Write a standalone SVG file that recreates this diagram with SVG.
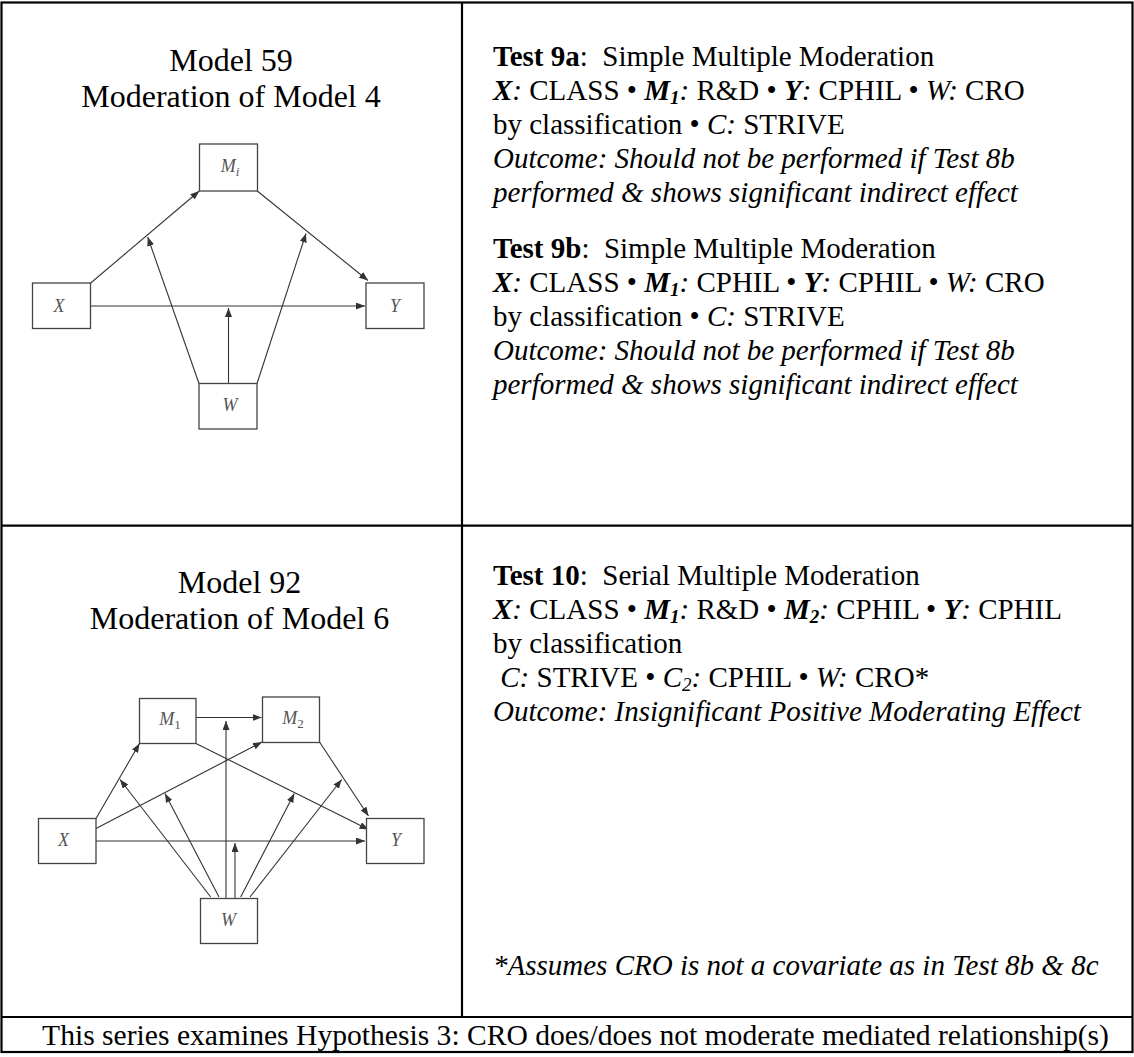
<svg xmlns="http://www.w3.org/2000/svg" width="1134" height="1057" viewBox="0 0 1134 1057">
  <style>
    .grid { stroke: #000; stroke-width: 2.2; fill: none; }
    .title { font-family: "Liberation Serif", "Times New Roman", serif; font-size: 32px; fill: #000; text-anchor: middle; }
    .body text, text.body { font-family: "Liberation Serif", "Times New Roman", serif; font-size: 29px; fill: #000; white-space: pre; }
    .box { fill: #fff; stroke: #444; stroke-width: 1.3; }
    .lbl { font-family: "Liberation Serif", "Times New Roman", serif; font-style: italic; font-size: 18px; fill: #555; text-anchor: middle; }
    .edge { stroke: #333; stroke-width: 1.1; fill: none; marker-end: url(#arr); }
    .b { font-weight: bold; }
    .i { font-style: italic; }
  </style>
  <defs>
    <marker id="arr" markerUnits="userSpaceOnUse" markerWidth="9" markerHeight="7" refX="9" refY="3.5" orient="auto">
      <path d="M0,0 L9,3.5 L0,7 z" fill="#333"/>
    </marker>
  </defs>

  <rect width="1134" height="1057" fill="#fff"/>

  <!-- table rules -->
  <g id="table">
    <rect class="grid" x="1.5" y="2.5" width="1131" height="1049.5"/>
    <line class="grid" x1="462" y1="2.5" x2="462" y2="1017"/>
    <line class="grid" x1="1.5" y1="525.7" x2="1132.5" y2="525.7"/>
    <line class="grid" x1="1.5" y1="1017" x2="1132.5" y2="1017"/>
  </g>

  <!-- left column headings -->
  <g id="heading-59">
    <text class="title" x="231" y="70.7">Model 59</text>
    <text class="title" x="231" y="106.7">Moderation of Model 4</text>
  </g>
  <g id="heading-92">
    <text class="title" x="239.5" y="592.5">Model 92</text>
    <text class="title" x="239.5" y="629">Moderation of Model 6</text>
  </g>

  <!-- Model 59 connectors -->
  <g id="edges-59">
    <path class="edge" d="M90.7,283 L199.3,191"/>
    <path class="edge" d="M257.3,191 L368,280.5"/>
    <path class="edge" d="M90.7,306 L365,306"/>
    <path class="edge" d="M199,383.5 L147.7,237"/>
    <path class="edge" d="M257,383.5 L306,233.5"/>
    <path class="edge" d="M228.5,383.5 L228.5,308"/>
  </g>

  <!-- Model 59 nodes -->
  <g id="m59-Mi">
    <rect class="box" x="199.5" y="144" width="58" height="47"/>
    <text class="lbl" x="230" y="172">M<tspan dy="4" font-size="13">i</tspan></text>
  </g>
  <g id="m59-X">
    <rect class="box" x="32.5" y="283" width="58" height="45.5"/>
    <text class="lbl" x="59" y="311.5">X</text>
  </g>
  <g id="m59-Y">
    <rect class="box" x="366" y="283" width="58" height="45.5"/>
    <text class="lbl" x="395" y="311.5">Y</text>
  </g>
  <g id="m59-W">
    <rect class="box" x="199" y="383.5" width="58" height="45.5"/>
    <text class="lbl" x="230" y="411">W</text>
  </g>

  <!-- Model 92 connectors -->
  <g id="edges-92">
    <path class="edge" d="M196,717.5 L261.5,717.5"/>
    <path class="edge" d="M96,818.5 L139.5,743.5"/>
    <path class="edge" d="M96,828.5 L262,742"/>
    <path class="edge" d="M196,743.5 L368.5,829.5"/>
    <path class="edge" d="M319.5,742 L368.5,816"/>
    <path class="edge" d="M96,841 L365,841"/>
    <path class="edge" d="M210.7,897 L120,779.5"/>
    <path class="edge" d="M219,897 L165,793.5"/>
    <path class="edge" d="M226,898.5 L226,721"/>
    <path class="edge" d="M235,898.5 L235,843"/>
    <path class="edge" d="M240.7,897 L294.3,793.5"/>
    <path class="edge" d="M250,897 L341.7,779.5"/>
  </g>

  <!-- Model 92 nodes -->
  <g id="m92-M1">
    <rect class="box" x="139.5" y="698.5" width="56.5" height="45"/>
    <text class="lbl" x="170" y="725">M<tspan dy="4" font-size="13" font-style="normal">1</tspan></text>
  </g>
  <g id="m92-M2">
    <rect class="box" x="262.5" y="697" width="57" height="45.5"/>
    <text class="lbl" x="293" y="724">M<tspan dy="4" font-size="13" font-style="normal">2</tspan></text>
  </g>
  <g id="m92-X">
    <rect class="box" x="38.5" y="818.5" width="57.5" height="45"/>
    <text class="lbl" x="63.5" y="845.5">X</text>
  </g>
  <g id="m92-Y">
    <rect class="box" x="366.5" y="818.5" width="57.5" height="45"/>
    <text class="lbl" x="396" y="845.5">Y</text>
  </g>
  <g id="m92-W">
    <rect class="box" x="200.5" y="898.5" width="57" height="45"/>
    <text class="lbl" x="228.5" y="926">W</text>
  </g>

  <!-- right column: tests 9a and 9b -->
  <g id="test-9" class="body">
    <text x="493" y="66"><tspan class="b">Test 9a</tspan>:  Simple Multiple Moderation</text>
    <text x="493" y="100"><tspan class="b i">X</tspan><tspan class="i">:</tspan> CLASS • <tspan class="b i">M</tspan><tspan class="b i" font-size="19" dy="4">1</tspan><tspan class="i" dy="-4">:</tspan> R&amp;D • <tspan class="b i">Y</tspan><tspan class="i">:</tspan> CPHIL • <tspan class="i">W:</tspan> CRO</text>
    <text x="493" y="134">by classification • <tspan class="i">C:</tspan> STRIVE</text>
    <text x="493" y="168" class="i">Outcome: Should not be performed if Test 8b</text>
    <text x="493" y="202" class="i">performed &amp; shows significant indirect effect</text>

    <text x="493" y="258"><tspan class="b">Test 9b</tspan>:  Simple Multiple Moderation</text>
    <text x="493" y="292"><tspan class="b i">X</tspan><tspan class="i">:</tspan> CLASS • <tspan class="b i">M</tspan><tspan class="b i" font-size="19" dy="4">1</tspan><tspan class="i" dy="-4">:</tspan> CPHIL • <tspan class="b i">Y</tspan><tspan class="i">:</tspan> CPHIL • <tspan class="i">W:</tspan> CRO</text>
    <text x="493" y="326">by classification • <tspan class="i">C:</tspan> STRIVE</text>
    <text x="493" y="360" class="i">Outcome: Should not be performed if Test 8b</text>
    <text x="493" y="394" class="i">performed &amp; shows significant indirect effect</text>
  </g>

  <!-- right column: test 10 -->
  <g id="test-10" class="body">
    <text x="493" y="585"><tspan class="b">Test 10</tspan>:  Serial Multiple Moderation</text>
    <text x="493" y="619"><tspan class="b i">X</tspan><tspan class="i">:</tspan> CLASS • <tspan class="b i">M</tspan><tspan class="b i" font-size="19" dy="4">1</tspan><tspan class="i" dy="-4">:</tspan> R&amp;D • <tspan class="b i">M</tspan><tspan class="b i" font-size="19" dy="4">2</tspan><tspan class="i" dy="-4">:</tspan> CPHIL • <tspan class="b i">Y</tspan><tspan class="i">:</tspan> CPHIL</text>
    <text x="493" y="653">by classification</text>
    <text x="493" y="687"> <tspan class="i">C</tspan><tspan class="i">:</tspan> STRIVE • <tspan class="i">C</tspan><tspan class="i" font-size="19" dy="4">2</tspan><tspan class="i" dy="-4">:</tspan> CPHIL • <tspan class="i">W:</tspan> CRO*</text>
    <text x="493" y="721" class="i">Outcome: Insignificant Positive Moderating Effect</text>
    <text x="493" y="975" class="i">*Assumes CRO is not a covariate as in Test 8b &amp; 8c</text>
  </g>

  <!-- footer row -->
  <g id="footer">
    <text class="body" x="575.5" y="1045" text-anchor="middle" style="font-size:29.6px">This series examines Hypothesis 3: CRO does/does not moderate mediated relationship(s)</text>
  </g>
</svg>
